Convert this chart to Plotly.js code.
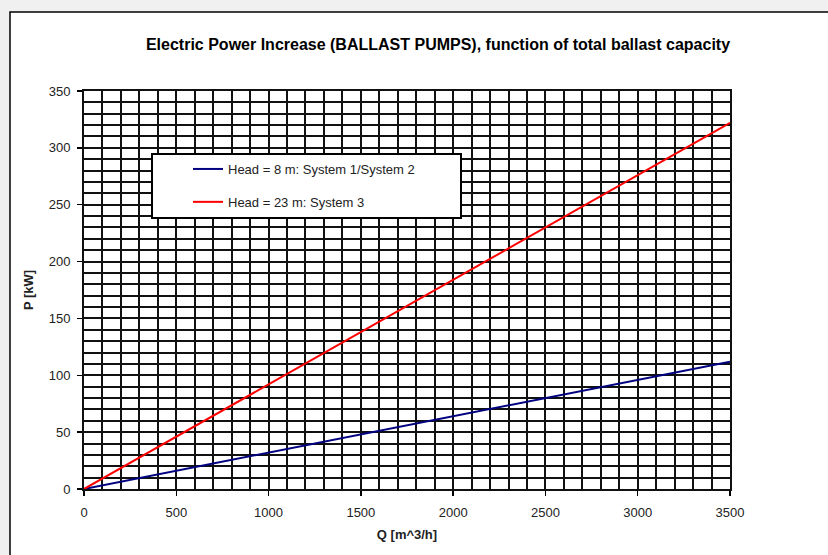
<!DOCTYPE html>
<html>
<head>
<meta charset="utf-8">
<script src="https://cdn.plot.ly/plotly-3.0.1.min.js"></script>
<style>
  html, body { margin: 0; padding: 0; background: #f0f0f0; }
  #chart { width: 828px; height: 555px; }
</style>
</head>
<body>
<div id="chart"></div>
<script>
// Data
var flowQ = [0, 500, 1000, 1500, 2000, 2500, 3000, 3500];           // Q [m^3/h]
var powerHead8 = [0, 16, 32, 48, 64, 80, 96, 112];                    // P [kW], Head = 8 m
var powerHead23 = [0, 46, 92, 138, 184, 230, 276, 322];               // P [kW], Head = 23 m
var seriesNames = ["Head = 8 m: System 1/System 2", "Head = 23 m: System 3"];
var chartTitle = "Electric Power Increase (BALLAST PUMPS), function of total ballast capacity";
var xTitle = "Q [m^3/h]";
var yTitle = "P [kW]";

var font = "Liberation Sans, Arial, sans-serif";

var traces = [
  {
    x: flowQ, y: powerHead8, name: seriesNames[0], type: "scatter", mode: "lines",
    line: { color: "#000080", width: 2 }, legendgroup: "a"
  },
  {
    x: flowQ, y: powerHead23, name: seriesNames[1], type: "scatter", mode: "lines",
    line: { color: "#ff0000", width: 2 }, legendgroup: "b"
  }
];

// helpers to convert pixel positions to paper coordinates
var L = 84, R = 98, T = 91, B = 66, W = 828, H = 555;
var pw = W - L - R, ph = H - T - B;
function px(x) { return (x - L) / pw; }
function py(y) { return (H - B - y) / ph; }

var gridC = "#111";
var layout = {
  width: W, height: H,
  margin: { l: L, r: R, t: T, b: B },
  paper_bgcolor: "#f0f0f0",
  plot_bgcolor: "#ffffff",
  font: { family: font, size: 13, color: "#000" },
  title: {
    text: chartTitle,
    font: { family: font, size: 16, color: "#000", weight: "bold" },
    x: px(438), xref: "paper", xanchor: "center",
    y: 1 - 44 / 555, yref: "container", yanchor: "middle"
  },
  xaxis: {
    range: [0, 3500], dtick: 500, tick0: 0,
    showgrid: true, gridcolor: gridC, gridwidth: 2,
    minor: { dtick: 100, showgrid: true, gridcolor: gridC, gridwidth: 2, ticks: "" },
    showline: true, linecolor: gridC, linewidth: 2, mirror: true,
    ticks: "outside", ticklen: 5, tickcolor: "#000", tickwidth: 1.5,
    ticklabelstandoff: 5,
    zeroline: false, fixedrange: true,
    tickfont: { family: font, size: 13, color: "#222" },
    title: { text: xTitle, font: { family: font, size: 13, color: "#222", weight: "bold" }, standoff: 11 }
  },
  yaxis: {
    range: [0, 350], dtick: 50, tick0: 0,
    showgrid: true, gridcolor: gridC, gridwidth: 2,
    minor: { dtick: 10, showgrid: true, gridcolor: gridC, gridwidth: 2, ticks: "" },
    showline: true, linecolor: gridC, linewidth: 2, mirror: true,
    ticks: "outside", ticklen: 5, tickcolor: "#000", tickwidth: 1.5,
    ticklabelstandoff: 4,
    zeroline: false, fixedrange: true,
    tickfont: { family: font, size: 13, color: "#222" },
    title: { text: yTitle, font: { family: font, size: 13, color: "#222", weight: "bold" }, standoff: 12 }
  },
  showlegend: true,
  legend: {
    x: px(188), xanchor: "left",
    y: py(154), yanchor: "top",
    bgcolor: "rgba(0,0,0,0)", borderwidth: 0,
    traceorder: "grouped", tracegroupgap: 13,
    font: { family: font, size: 13, color: "#222" }
  },
  shapes: [
    // outer chart frame
    { type: "rect", xref: "paper", yref: "paper", layer: "below",
      x0: px(10), x1: px(900), y0: py(600), y1: py(12),
      fillcolor: "#ffffff", line: { color: "#000", width: 1.5 } },
    // legend box
    { type: "rect", xref: "paper", yref: "paper", layer: "above",
      x0: px(152), x1: px(461), y0: py(218), y1: py(154),
      fillcolor: "#ffffff", line: { color: "#000", width: 2 } }
  ]
};

Plotly.newPlot("chart", traces, layout, { staticPlot: true, displayModeBar: false });
</script>
</body>
</html>
